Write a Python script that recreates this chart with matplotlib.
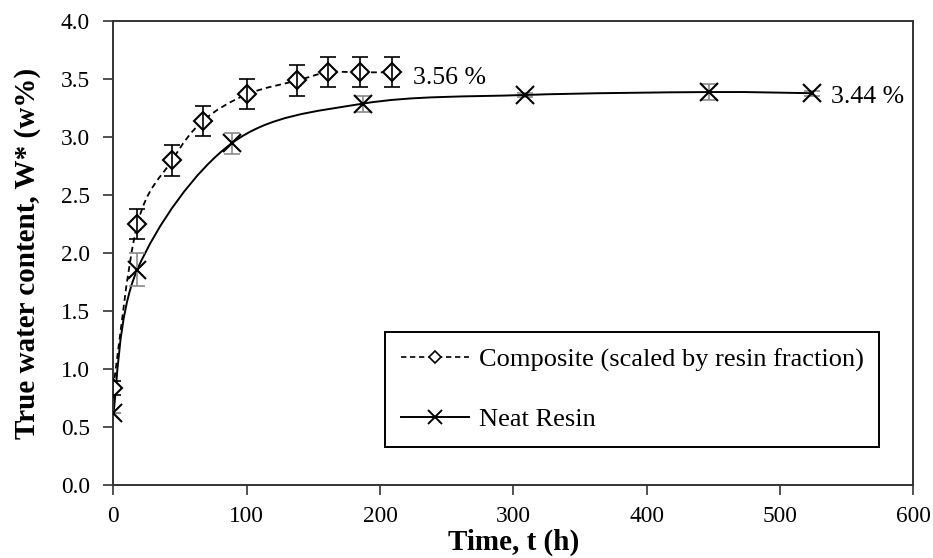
import numpy as np
import matplotlib
matplotlib.use("Agg")
import matplotlib.pyplot as plt
from matplotlib.path import Path
from matplotlib.patches import PathPatch
from matplotlib.lines import Line2D

plt.rcParams['font.family'] = ['Liberation Serif', 'DejaVu Serif']

# ---- data ----
comp_t = [0, 18, 44, 67, 100, 138, 161, 185, 209]
comp_w = [0.84, 2.25, 2.80, 3.14, 3.37, 3.49, 3.56, 3.56, 3.56]
comp_err = [0.06, 0.13, 0.13, 0.13, 0.13, 0.13, 0.13, 0.13, 0.13]

resin_t = [0, 18, 89, 187, 309, 447, 524]
resin_w = [0.62, 1.86, 2.95, 3.29, 3.365, 3.39, 3.38]
resin_err = [0.0, 0.14, 0.09, 0.07, 0.02, 0.07, 0.02]

label_comp = "Composite (scaled by resin fraction)"
label_resin = "Neat Resin"
ann_comp = "3.56 %"
ann_resin = "3.44 %"

x_ticks = [0, 100, 200, 300, 400, 500, 600]
y_ticks = [0.0, 0.5, 1.0, 1.5, 2.0, 2.5, 3.0, 3.5, 4.0]


def smooth_path(xs, ys):
    """Excel-like smoothed line: cubic Bezier segments (Catmull-Rom control points)."""
    P = np.column_stack([xs, ys]).astype(float)
    n = len(P)
    verts = [P[0]]
    codes = [Path.MOVETO]
    for i in range(n - 1):
        p0 = P[i - 1] if i > 0 else P[i]
        p1 = P[i]
        p2 = P[i + 1]
        p3 = P[i + 2] if i + 2 < n else P[i + 1]
        c1 = p1 + (p2 - p0) / 6.0
        c2 = p2 - (p3 - p1) / 6.0
        verts += [c1, c2, p2]
        codes += [Path.CURVE4] * 3
    return Path(verts, codes)


fig = plt.figure(figsize=(9.33, 5.58), dpi=100)
ax = fig.add_axes([0.12144, 0.13029, 0.85745, 0.83154])

spine_col = '#333333'

# composite: dashed smooth line
ax.add_patch(PathPatch(smooth_path(comp_t, comp_w), facecolor='none',
                       edgecolor='black', lw=1.3, linestyle=(0, (3.2, 2.2)), zorder=2))
# neat resin: solid smooth line
ax.add_patch(PathPatch(smooth_path(resin_t, resin_w), facecolor='none',
                       edgecolor='black', lw=1.4, zorder=2))

# markers
ax.plot(comp_t, comp_w, linestyle='none', marker='D', ms=9.5, mfc='white',
        mec='black', mew=1.5, zorder=3)
ax.errorbar(comp_t, comp_w, yerr=comp_err, fmt='none', ecolor='black',
            elinewidth=1.2, capsize=6, capthick=1.2, zorder=4)

ax.errorbar(resin_t, resin_w, yerr=resin_err, fmt='none', ecolor='#8a8a8a',
            elinewidth=1.2, capsize=6, capthick=1.2, zorder=3)
ax.plot(resin_t, resin_w, linestyle='none', marker='x', ms=13, mec='black',
        mew=1.5, zorder=4)

# annotations
ax.text(224.5, 3.46, ann_comp, fontsize=18.5, ha='left', va='baseline')
ax.text(538.5, 3.293, ann_resin, fontsize=18.5, ha='left', va='baseline')

ax.set_xlim(0, 600)
ax.set_ylim(0, 4.0)
ax.set_xticks(x_ticks)
ax.set_yticks(y_ticks)
ax.set_xticklabels([str(v) for v in x_ticks])
ax.set_yticklabels([f"{v:.1f}" for v in y_ticks])
ax.tick_params(axis='both', direction='out', length=7, width=1.2,
               colors=spine_col, labelcolor='black', labelsize=16.8)
ax.tick_params(axis='y', pad=10)
ax.tick_params(axis='x', pad=8)
for s in ax.spines.values():
    s.set_color(spine_col)
    s.set_linewidth(1.4)

ax.set_xlabel("Time, t (h)", fontsize=21, fontweight='bold')
ax.set_ylabel("True water content, W* (w%)", fontsize=21, fontweight='bold')
ax.xaxis.set_label_coords(0.5, -0.093)
ax.yaxis.set_label_coords(-0.0905, 0.5)

handles = [
    Line2D([], [], color='black', linestyle=(0, (3.2, 2.2)), lw=1.2, marker='D',
           ms=6.5, mfc='white', mec='black', mew=1.2),
    Line2D([], [], color='black', linestyle='-', lw=1.4, marker='x', ms=10,
           mec='black', mew=1.4),
]
leg = ax.legend(handles, [label_comp, label_resin], loc='upper left',
                bbox_to_anchor=(0.3396, 0.330), borderaxespad=0,
                fontsize=19, frameon=True, fancybox=False, framealpha=1,
                edgecolor='black', handlelength=2.6, handletextpad=0.35,
                labelspacing=1.34, borderpad=0.6)
leg.get_frame().set_linewidth(1.4)

fig.savefig("out.png", dpi=100)
